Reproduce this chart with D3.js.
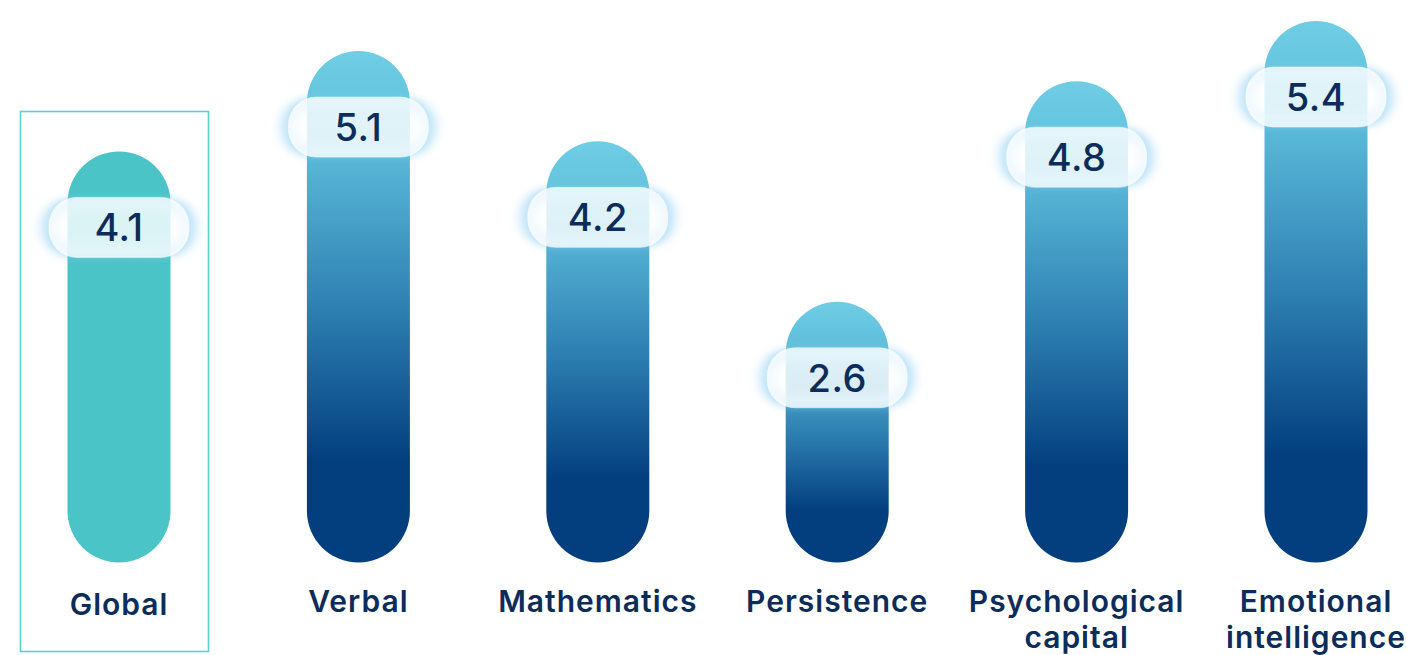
<!DOCTYPE html>
<html>
<head>
<meta charset="utf-8">
<script src="https://cdn.jsdelivr.net/npm/d3@7"></script>
<style>
  html, body { margin: 0; padding: 0; background: #ffffff; }
  svg { display: block; }
  text { font-family: Inter, "Open Sans", sans-serif; }
</style>
</head>
<body>
<svg id="chart" width="1407" height="655"></svg>
<script>
// Scores by dimension
const categories = ["Global", "Verbal", "Mathematics", "Persistence", "Psychological capital", "Emotional intelligence"];
const values = [4.1, 5.1, 4.2, 2.6, 4.8, 5.4];
const labelLines = [["Global"], ["Verbal"], ["Mathematics"], ["Persistence"], ["Psychological", "capital"], ["Emotional", "intelligence"]];
const highlighted = "Global";

const svg = d3.select("#chart");

const x = d3.scalePoint().domain(categories).range([119, 1316]);
const y = d3.scaleLinear().domain([0, 5.5]).range([562.5, 11]);

const barW = 103;
const pillW = 140, pillH = 60;
const navy = "#0c2d5b";

const defs = svg.append("defs");
const grad = defs.append("linearGradient")
  .attr("id", "barGrad").attr("x1", 0).attr("y1", 0).attr("x2", 0).attr("y2", 1);
[[0, "#6fcee4"], [0.18, "#5dbddb"], [0.5, "#2e80b2"], [0.8, "#033f7f"], [1, "#033f7f"]]
  .forEach(([o, c]) => grad.append("stop").attr("offset", o).attr("stop-color", c));

const glow = defs.append("filter").attr("id", "glow")
  .attr("x", "-40%").attr("y", "-60%").attr("width", "180%").attr("height", "220%");
glow.append("feGaussianBlur").attr("stdDeviation", "7 4");

const data = categories.map((c, i) => ({ cat: c, value: values[i], lines: labelLines[i] }));

// Frame around the highlighted category
svg.append("rect")
  .attr("x", x(highlighted) - 98.5).attr("y", 111.5)
  .attr("width", 188).attr("height", 540)
  .attr("fill", "none").attr("stroke", "#5bd0d2").attr("stroke-width", 1.6);

// Capsule-shaped bars
function capsule(cx, top, bottom, w) {
  const r = w / 2;
  const p = d3.path();
  p.moveTo(cx - r, top + r);
  p.arc(cx, top + r, r, Math.PI, 0);
  p.lineTo(cx + r, bottom - r);
  p.arc(cx, bottom - r, r, 0, Math.PI);
  p.closePath();
  return p.toString();
}

const g = svg.selectAll("g.item").data(data).join("g").attr("class", "item");

g.append("path")
  .attr("d", d => capsule(x(d.cat), y(d.value), y(0), barW))
  .attr("fill", d => d.cat === highlighted ? "#4ac4c7" : "url(#barGrad)");

// Value pills with a soft blue halo at the ends
const pillY = d => y(d.value) + 76;

g.append("rect")
  .attr("x", d => x(d.cat) - pillW / 2 + 1).attr("y", d => pillY(d) - pillH / 2 + 7)
  .attr("width", pillW - 2).attr("height", pillH - 14)
  .attr("rx", 22).attr("ry", 22)
  .attr("fill", "none").attr("stroke", "#86cdf2").attr("stroke-width", 10)
  .attr("stroke-opacity", 0.9)
  .attr("filter", "url(#glow)");

g.append("rect")
  .attr("x", d => x(d.cat) - pillW / 2).attr("y", d => pillY(d) - pillH / 2)
  .attr("width", pillW).attr("height", pillH)
  .attr("rx", 28).attr("ry", 28)
  .attr("fill", "#ffffff").attr("fill-opacity", 0.8)
  .attr("stroke", "#ffffff").attr("stroke-opacity", 0.5).attr("stroke-width", 1);

g.append("text")
  .attr("x", d => x(d.cat)).attr("y", d => pillY(d) + 14)
  .attr("text-anchor", "middle")
  .attr("font-size", 38).attr("font-weight", 500)
  .attr("letter-spacing", 0.5)
  .attr("fill", navy)
  .text(d => d3.format(".1f")(d.value));

// Category labels
g.append("text")
  .attr("text-anchor", "middle")
  .attr("font-size", 30).attr("font-weight", 600)
  .attr("letter-spacing", 1)
  .attr("fill", navy)
  .each(function (d) {
    const t = d3.select(this);
    const base = d.cat === highlighted ? 615 : 612;
    d.lines.forEach((ln, i) => {
      t.append("tspan").attr("x", x(d.cat)).attr("y", base + i * 36).text(ln);
    });
  });
</script>
</body>
</html>
